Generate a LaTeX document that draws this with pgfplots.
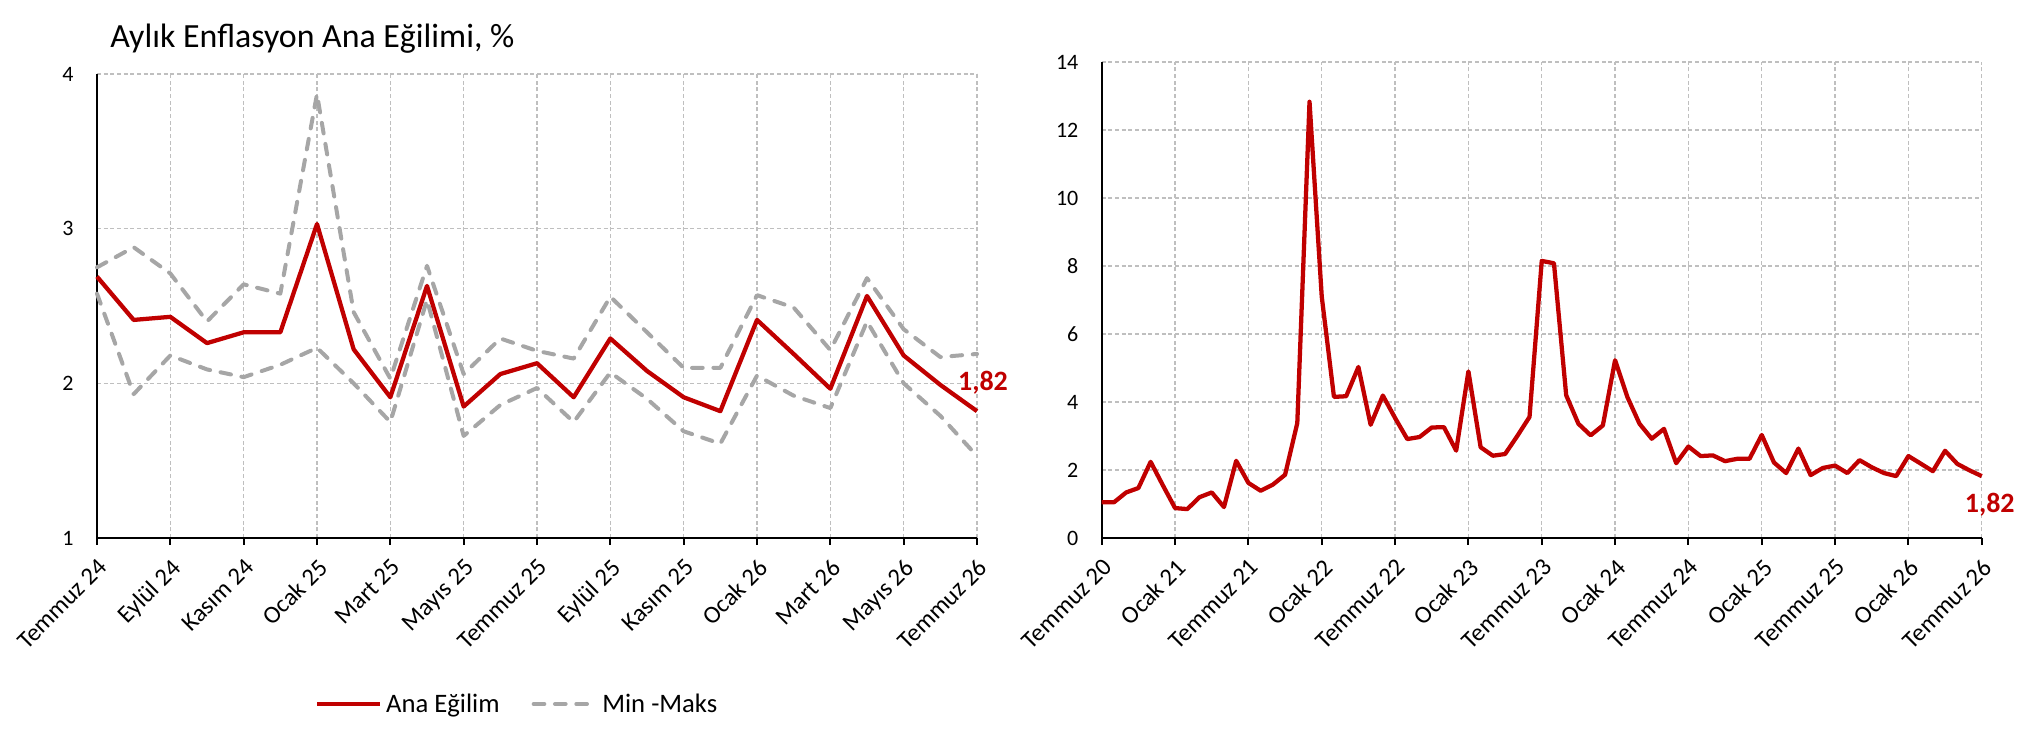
\documentclass[border=0pt]{standalone}
\usepackage{pgfplots}
\pgfplotsset{compat=1.18}
\usepackage{pgfplotstable}
\usepackage{fontspec}
\setmainfont{Carlito}
\definecolor{anared}{HTML}{C00000}
\definecolor{mmgray}{HTML}{A6A6A6}
\definecolor{gridgray}{HTML}{BFBFBF}

\pgfplotstableread{
x ana ust alt
0 2.69 2.75 2.58
1 2.41 2.88 1.93
2 2.43 2.71 2.18
3 2.26 2.40 2.09
4 2.33 2.64 2.04
5 2.33 2.58 2.12
6 3.03 3.87 2.23
7 2.22 2.46 2.00
8 1.91 2.03 1.75
9 2.63 2.76 2.54
10 1.85 2.06 1.66
11 2.06 2.29 1.86
12 2.13 2.21 1.97
13 1.91 2.16 1.75
14 2.29 2.56 2.07
15 2.08 2.33 1.90
16 1.91 2.10 1.69
17 1.82 2.10 1.61
18 2.41 2.57 2.05
19 2.19 2.49 1.92
20 1.965 2.215 1.84
21 2.565 2.68 2.40
22 2.18 2.35 2.00
23 1.99 2.17 1.79
24 1.82 2.19 1.53
}\leftdata

\pgfplotstableread{
x ana
0 1.05
1 1.05
2 1.34
3 1.47
4 2.24
5 1.55
6 0.88
7 0.85
8 1.20
9 1.34
10 0.91
11 2.27
12 1.62
13 1.39
14 1.57
15 1.86
16 3.38
17 12.83
18 7.10
19 4.15
20 4.17
21 5.03
22 3.33
23 4.19
24 3.53
25 2.91
26 2.97
27 3.25
28 3.26
29 2.57
30 4.90
31 2.67
32 2.42
33 2.47
34 3.00
35 3.56
36 8.15
37 8.08
38 4.20
39 3.36
40 3.02
41 3.31
42 5.23
43 4.15
44 3.36
45 2.92
46 3.21
47 2.20
48 2.69
49 2.41
50 2.43
51 2.26
52 2.33
53 2.33
54 3.03
55 2.22
56 1.91
57 2.63
58 1.85
59 2.06
60 2.13
61 1.91
62 2.29
63 2.08
64 1.91
65 1.82
66 2.41
67 2.19
68 1.965
69 2.565
70 2.18
71 1.99
72 1.82
}\rightdata

\pgfplotsset{
  mybase/.style={
    scale only axis,
    anchor=south west,
    axis x line*=bottom, axis y line*=left,
    axis line style={-, line width=1.4pt, black},
    grid=major,
    grid style={dash pattern=on 3pt off 2pt, gridgray, line width=0.9pt},
    tick align=outside,
    major tick length=5pt,
    xtick style={line width=1.4pt, black},
    ytick style={draw=none},
    x tick label style={rotate=45, anchor=north east, font=\fontsize{18.5}{20}\selectfont, inner sep=1pt},
    xticklabel shift=8pt,
    y tick label style={font=\fontsize{16.5}{18}\selectfont, xshift=-9pt},
    /pgf/number format/assume math mode=true,
    clip=false,
  }
}

\begin{document}
\begin{tikzpicture}
\path[use as bounding box] (0pt,0pt) rectangle (1525.5pt,552pt);

\node[anchor=west, font=\fontsize{25.4}{29}\selectfont, inner sep=0pt] at (82.5pt,522.75pt) {Aylık Enflasyon Ana Eğilimi, \%};

\begin{axis}[mybase,
  at={(72.75pt,148.5pt)}, width=660pt, height=348pt,
  xmin=0, xmax=24, ymin=1, ymax=4,
  ytick={1,2,3,4},
  xtick={0,2,...,24},
  xticklabels={Temmuz 24,Eylül 24,Kasım 24,Ocak 25,Mart 25,Mayıs 25,Temmuz 25,Eylül 25,Kasım 25,Ocak 26,Mart 26,Mayıs 26,Temmuz 26},
  legend columns=2,
  legend style={draw=none, at={(0.2477,-0.3578)}, anchor=west, inner sep=0pt,
    nodes={inner sep=3pt, font=\fontsize{20}{23}\selectfont},
    /tikz/every even column/.append style={column sep=21pt}},
  legend image code/.code={\draw[#1] (0pt,0pt) -- (47pt,0pt);},
]
\addplot[anared, line width=3.2pt, line join=round] table[x=x, y=ana] {\leftdata};
\addlegendentry{Ana Eğilim}
\addplot[mmgray, line width=3pt, dash pattern=on 8pt off 8pt, line cap=round, line join=round] table[x=x, y=ust] {\leftdata};
\addlegendentry{Min -Maks}
\addplot[mmgray, line width=3pt, dash pattern=on 8pt off 8pt, line cap=round, line join=round, forget plot] table[x=x, y=alt] {\leftdata};
\node[text=anared, font=\bfseries\fontsize{21}{24}\selectfont, xshift=4.5pt, yshift=21pt] at (axis cs:24,1.82) {1,82};
\end{axis}

\begin{axis}[mybase,
  at={(826.3pt,148.5pt)}, width=660pt, height=357pt,
  xmin=0, xmax=72, ymin=0, ymax=14,
  ytick={0,2,...,14},
  xtick={0,6,...,72},
  xticklabels={Temmuz 20,Ocak 21,Temmuz 21,Ocak 22,Temmuz 22,Ocak 23,Temmuz 23,Ocak 24,Temmuz 24,Ocak 25,Temmuz 25,Ocak 26,Temmuz 26},
]
\addplot[anared, line width=3.2pt, line join=round] table[x=x, y=ana] {\rightdata};
\node[text=anared, font=\bfseries\fontsize{21}{24}\selectfont, xshift=6pt, yshift=-21.5pt] at (axis cs:72,1.82) {1,82};
\end{axis}
\end{tikzpicture}
\end{document}
